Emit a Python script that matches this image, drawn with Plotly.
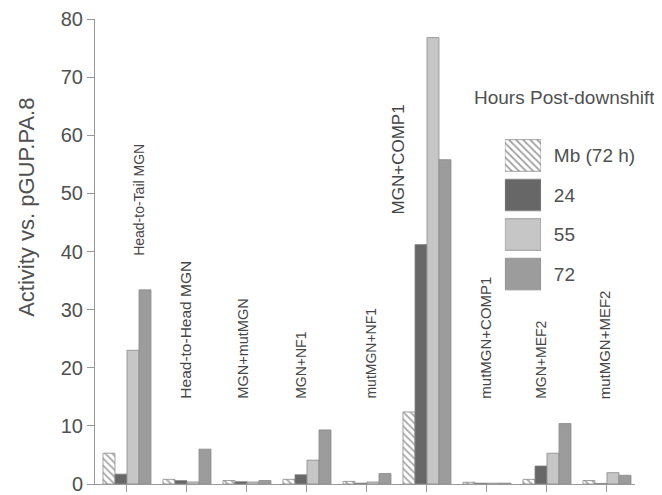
import plotly.graph_objects as go

# ---- data ----
constructs = ["Head-to-Tail MGN", "Head-to-Head MGN", "MGN+mutMGN", "MGN+NF1",
              "mutMGN+NF1", "MGN+COMP1", "mutMGN+COMP1", "MGN+MEF2", "mutMGN+MEF2"]
series_names = ["Mb (72 h)", "24", "55", "72"]
mb_72h = [5.3, 0.8, 0.6, 0.8, 0.45, 12.4, 0.3, 0.8, 0.6]
h24 = [1.7, 0.6, 0.4, 1.6, 0.15, 41.2, 0.15, 3.1, 0.1]
h55 = [23.0, 0.35, 0.35, 4.1, 0.35, 76.8, 0.15, 5.3, 1.95]
h72 = [33.4, 6.0, 0.6, 9.3, 1.8, 55.8, 0.15, 10.4, 1.5]
y_ticks = [0, 10, 20, 30, 40, 50, 60, 70, 80]

FONT = "Liberation Sans, Arial, sans-serif"
TXT = "#505050"
LBL = "#464646"
AX = "#999999"
EDGE = "#8a8a8a"

styles = [
    dict(color="white", pattern=dict(shape="\\", fgcolor="#555555", bgcolor="white", size=5, solidity=0.35)),
    dict(color="#676767"),
    dict(color="#c6c6c6"),
    dict(color="#9c9c9c"),
]

fig = go.Figure()
idx = list(range(len(constructs)))
for name, vals, st in zip(series_names, [mb_72h, h24, h55, h72], styles):
    fig.add_trace(go.Bar(
        x=idx, y=vals, name=name, showlegend=False,
        marker=dict(line=dict(color=EDGE, width=0.8), **st),
        hovertemplate="%{y}<extra>" + name + "</extra>",
    ))

# legend swatches drawn on a small helper axis pair
fig.add_trace(go.Bar(
    x=[1, 1, 1, 1], y=series_names, orientation="h", xaxis="x2", yaxis="y2",
    showlegend=False, hoverinfo="skip",
    marker=dict(
        color=[s["color"] for s in styles],
        line=dict(color=EDGE, width=0.8),
        pattern=dict(shape=["\\", "", "", ""], fgcolor=["#555555", "#676767", "#c6c6c6", "#9c9c9c"],
                     size=5, solidity=0.35),
    ),
))

# group labels (rotated)
label_x = [0.2, 0.98, 1.93, 2.9, 4.07, 4.53, 5.98, 6.9, 7.95]
label_y = [38.9, 14.3, 14.3, 14.3, 14.3, 46.0, 14.3, 14.3, 14.3]
label_size = [14, 15.5, 14.5, 14, 14, 17, 15, 14, 15]
for name, lx, ly, fs in zip(constructs, label_x, label_y, label_size):
    fig.add_annotation(x=lx, y=ly, xref="x", yref="y", text=name, showarrow=False,
                       textangle=-90, xanchor="center", yanchor="bottom",
                       font=dict(family=FONT, size=fs, color=LBL))

fig.add_annotation(x=-0.126, y=0.596, xref="paper", yref="paper",
                   xanchor="center", yanchor="middle",
                   text="Activity vs. pGUP.PA.8", showarrow=False, textangle=-90,
                   font=dict(family=FONT, size=22, color=TXT))
fig.add_annotation(x=0.698, y=0.832, xref="paper", yref="paper", xanchor="left", yanchor="middle",
                   text="Hours Post-downshift", showarrow=False,
                   font=dict(family=FONT, size=19, color=TXT))

fig.update_layout(
    width=654, height=487,
    margin=dict(l=87, r=27, t=11, b=11, autoexpand=False),
    plot_bgcolor="white", paper_bgcolor="white",
    barmode="group", bargap=0.2, bargroupgap=0,
    font=dict(family=FONT, color=TXT),
    xaxis=dict(range=[-0.533, 8.467], tickvals=idx, showticklabels=False, automargin=False,
               ticks="outside", ticklen=7, tickcolor=AX, showline=True, linecolor=AX,
               linewidth=1, showgrid=False, zeroline=False),
    yaxis=dict(range=[0, 80], tickvals=y_ticks, ticks="outside", ticklen=7, tickcolor=AX,
               showline=True, linecolor=AX, linewidth=1, showgrid=False, zeroline=False,
               automargin=False, tickfont=dict(family=FONT, size=20, color=TXT)),
    xaxis2=dict(domain=[0.759, 0.826], range=[0, 1], visible=False, anchor="y2", automargin=False),
    yaxis2=dict(domain=[0.409, 0.749], anchor="x2", side="right", autorange="reversed",
                showline=False, showgrid=False, zeroline=False, ticks="outside", automargin=False,
                ticklen=8, tickcolor="rgba(0,0,0,0)",
                tickfont=dict(family=FONT, size=19, color=TXT)),
)

fig.write_html("out.html")
